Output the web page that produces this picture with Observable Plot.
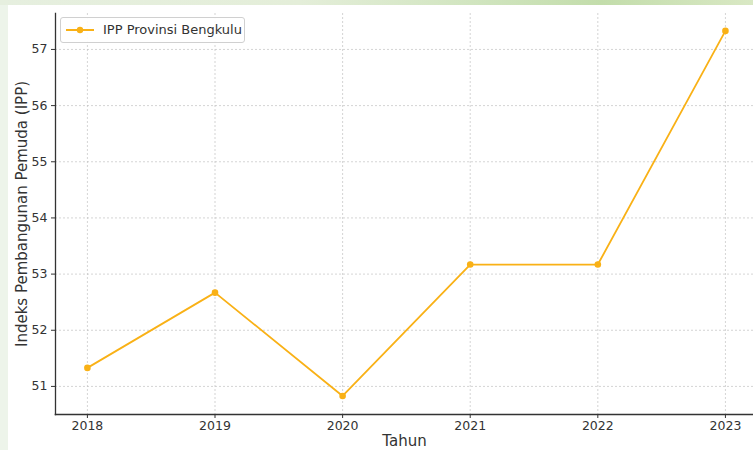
<!DOCTYPE html>
<html>
<head>
<meta charset="utf-8">
<script src="https://cdn.jsdelivr.net/npm/d3@7"></script>
<script src="https://cdn.jsdelivr.net/npm/@observablehq/plot@0.6"></script>
<style>
  body { margin: 0; }
  #wrap { position: relative; width: 753px; height: 450px; background: #edf4ea; overflow: hidden; font-family: "DejaVu Sans", sans-serif; }
  #strip { position: absolute; left: 0; top: 0; width: 753px; height: 5px;
    background: linear-gradient(to right, #e6efdf 0%, #e4eed9 40%, #cfe4bd 65%, #c3ddab 80%, #d9e8c4 100%); }
  #chart { position: absolute; left: 8px; top: 5px; background: #fff; }
  #legend { position: absolute; left: 60px; top: 17px; width: 185px; height: 26px; box-sizing: border-box;
    border: 1px solid #d0d0d0; border-radius: 3px; background: rgba(255,255,255,0.9);
    font-size: 13px; color: #333; }
  #legend svg { position: absolute; left: 5px; top: 6px; }
  #legend span { position: absolute; left: 42px; top: 4px; white-space: nowrap; }
</style>
</head>
<body>
<div id="wrap"><div id="strip"></div><div id="chart"></div>
<div id="legend"><svg width="30" height="12"><line x1="0" y1="6" x2="28" y2="6" stroke="#F9B116" stroke-width="2"/><circle cx="14" cy="6" r="3.2" fill="#F9B116"/></svg><span>IPP Provinsi Bengkulu</span></div>
</div>
<script>
const years = [2018, 2019, 2020, 2021, 2022, 2023];
const ipp = [51.33, 52.67, 50.83, 53.17, 53.17, 57.33];
const yTicks = [51, 52, 53, 54, 55, 56, 57];
const seriesName = "IPP Provinsi Bengkulu";
const xLabel = "Tahun";
const yLabel = "Indeks Pembangunan Pemuda (IPP)";

const data = years.map((y, i) => ({year: y, value: ipp[i]}));
const color = "#F9B116";

const chart = Plot.plot({
  width: 745,
  height: 445,
  marginLeft: 47,
  marginRight: 0,
  marginTop: 8,
  marginBottom: 36,
  style: {fontFamily: "DejaVu Sans, sans-serif", fontSize: "12px", color: "#333", background: "#fff"},
  x: {type: "linear", domain: [2017.75, 2023.22], label: null},
  y: {domain: [50.5, 57.64], label: null},
  marks: [
    Plot.gridX(years, {stroke: "#bbb", strokeOpacity: 0.8, strokeDasharray: "2,2", strokeWidth: 0.8}),
    Plot.gridY(yTicks, {stroke: "#bbb", strokeOpacity: 0.8, strokeDasharray: "2,2", strokeWidth: 0.8}),
    Plot.axisX(years, {tickFormat: d => String(d), tickSize: 4, tickPadding: 3, stroke: "#333", fill: "#333", fontSize: 12.5, label: null}),
    Plot.axisY(yTicks, {tickFormat: d => String(d), tickSize: 4, tickPadding: 4, stroke: "#333", fill: "#333", fontSize: 12.5, label: null}),
    Plot.frame({anchor: "left", stroke: "#333", strokeWidth: 1.3}),
    Plot.frame({anchor: "bottom", stroke: "#333", strokeWidth: 1.6}),
    Plot.line(data, {x: "year", y: "value", stroke: color, strokeWidth: 1.8}),
    Plot.dot(data, {x: "year", y: "value", fill: color, r: 3.3}),
    Plot.text([xLabel], {frameAnchor: "bottom", lineAnchor: "middle", textAnchor: "middle", dy: 27, fontSize: 15, fill: "#333"}),
    Plot.text([yLabel], {frameAnchor: "left", textAnchor: "middle", lineAnchor: "middle", rotate: -90, dx: -33, fontSize: 15, fill: "#333"})
  ]
});
document.getElementById("chart").appendChild(chart);
</script>
</body>
</html>
